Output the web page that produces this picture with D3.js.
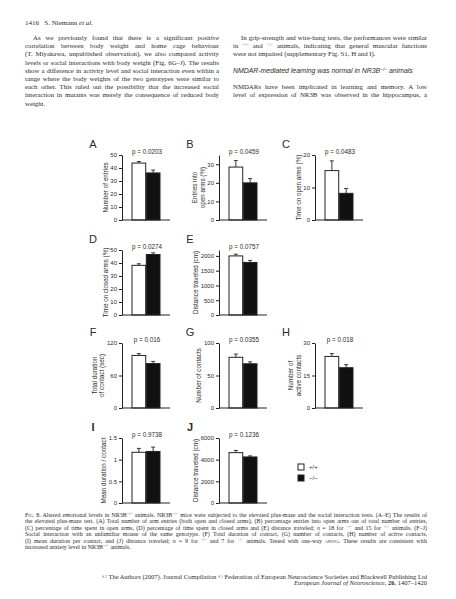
<!DOCTYPE html>
<html><head><meta charset="utf-8">
<script src="https://cdn.jsdelivr.net/npm/d3@7"></script>
<style>html,body{margin:0;padding:0;background:#fff;} svg{display:block}</style>
</head><body>
<svg id="page" width="456" height="599"></svg>
<script>
// ---------------- DATA ----------------
const panelLetters = ["A","B","C","D","E","F","G","H","I","J"];
const genotypes = ["+/+", "\u2212/\u2212"];
const pValues = ["p = 0.0203","p = 0.0459","p = 0.0483","p = 0.0274","p = 0.0757",
                 "p = 0.016","p = 0.0355","p = 0.018","p = 0.9738","p = 0.1236"];
const wtMeans = [43.8, 28.5, 15.2, 38.2, 2000, 97, 78, 23.8, 1.17, 4650];
const wtErr   = [1.2, 3.5, 3.0, 1.2, 60, 3.5, 5, 1.3, 0.09, 200];
const koMeans = [36.2, 20.0, 8.2, 46.5, 1780, 82, 68, 18.6, 1.19, 4250];
const koErr   = [2.2, 2.3, 1.5, 1.3, 70, 4, 3, 1.4, 0.10, 100];
const yMax    = [50, 35, 20, 50, 2200, 120, 100, 30, 1.5, 6000];
const yTicks  = [[0,10,20,30,40,50],[0,10,20,30],[0,10,20],[0,10,20,30,40,50],
                 [0,500,1000,1500,2000],[0,60,120],[0,50,100],[0,15,30],
                 [0,0.5,1,1.5],[0,2000,4000,6000]];
const yTitles = [["Number of entries"],["Entries into","open arms (%)"],["Time on open arms (%)"],
                 ["Time on closed arms (%)"],["Distance traveled (cm)"],
                 ["Total duration","of contact (sec)"],["Number of contacts"],
                 ["Number of","active contacts"],["Mean duration / contact"],["Distance traveled (cm)"]];

const headerText = "1416\u2002 S. Niemann {i:et al.}";
const leftPara = [
 "As we previously found that there is a significant positive",
 "correlation between body weight and home cage behaviour",
 "(T. Miyakawa, unpublished observation), we also compared activity",
 "levels or social interactions with body weight (Fig. 6G\u2013J). The results",
 "show a difference in activity level and social interaction even within a",
 "range where the body weights of the two genotypes were similar to",
 "each other. This ruled out the possibility that the increased social",
 "interaction in mutants was merely the consequence of reduced body",
 "weight."];
const rightPara1 = [
 "In grip-strength and wire-hang tests, the performances were similar",
 "in {sup:\u2212/\u2212} and {sup:+/+} animals, indicating that general muscular functions",
 "were not impaired (supplementary Fig. S1, H and I)."];
const headingText = "NMDAR-mediated learning was normal in NR3B{sup:\u2212/\u2212} animals";
const rightPara2 = [
 "NMDARs have been implicated in learning and memory. A low",
 "level of expression of NR3B was observed in the hippocampus, a"];
const captionLines = [
 "{sc:Fig. 8.} Altered emotional levels in NR3B{sup:\u2212/\u2212} animals. NR3B{sup:\u2212/\u2212} mice were subjected to the elevated plus-maze and the social interaction tests. (A\u2013E) The results of",
 "the elevated plus-maze test. (A) Total number of arm entries (both open and closed arms), (B) percentage entries into open arms out of total number of entries,",
 "(C) percentage of time spent in open arms, (D) percentage of time spent in closed arms and (E) distance traveled; {i:n} = 18 for {sup:\u2212/\u2212} and 15 for {sup:+/+} animals. (F\u2013J)",
 "Social interaction with an unfamiliar mouse of the same genotype. (F) Total duration of contact, (G) number of contacts, (H) number of active contacts,",
 "(I) mean duration per contact, and (J) distance traveled; {i:n} = 9 for {sup:\u2212/\u2212} and 7 for {sup:+/+} animals. Tested with one-way {sc:anova}. These results are consistent with",
 "increased anxiety level in NR3B{sup:\u2212/\u2212} animals."];
const footerLines = [
 "\u00a9 The Authors (2007). Journal Compilation \u00a9 Federation of European Neuroscience Societies and Blackwell Publishing Ltd",
 "{i:European Journal of Neuroscience}, {b:26}, 1407\u20131420"];

// ---------------- LAYOUT ----------------
const panelCol = [0,1,2,0,1,0,1,2,0,1];
const panelRow = [0,0,0,1,1,2,2,2,3,3];
const colX = [122, 219, 315];
const rowBase = [220, 315, 408, 503];
const plotH = 65;
const INK = "#222";
const TXT = "#2b2b2b";
const SERIF = "'Liberation Serif','Times New Roman',serif";
const SANS = "'Liberation Sans',Arial,sans-serif";

const svg = d3.select("#page");
svg.append("rect").attr("width",456).attr("height",599).attr("fill","#fff");

function addRich(textSel, str, baseSize) {
  const re = /\{(sup|i|b|sc):([^}]*)\}/g;
  let last = 0, m;
  const push = (t, kind) => {
    if (!t) return;
    const ts = textSel.append("tspan").text(t);
    if (kind === "sup") ts.attr("baseline-shift","super").attr("font-size", baseSize*0.7);
    if (kind === "i") ts.attr("font-style","italic");
    if (kind === "b") ts.attr("font-weight","bold");
    if (kind === "sc") ts.attr("font-variant","small-caps");
  };
  while ((m = re.exec(str)) !== null) {
    push(str.slice(last, m.index), null);
    push(m[2], m[1]);
    last = re.lastIndex;
  }
  push(str.slice(last), null);
}

function drawLine(str, x, y, width, opts) {
  const t = svg.append("text").attr("x", x).attr("y", y)
    .attr("font-family", opts.family || SERIF).attr("font-size", opts.size)
    .attr("fill", TXT);
  if (opts.italic) t.attr("font-style","italic");
  if (opts.anchor) t.attr("text-anchor", opts.anchor);
  addRich(t, str, opts.size);
  if (opts.justify) {
    const natural = t.node().getComputedTextLength();
    const spaces = (t.text().match(/ /g) || []).length;
    if (natural > width || spaces === 0) {
      t.attr("textLength", width).attr("lengthAdjust","spacing");
    } else {
      t.attr("word-spacing", (width - natural) / spaces);
    }
  }
  return t;
}

// header
drawLine(headerText, 25, 25, 0, {size:7});

// body text
const LX = 25, RX = 233, COLW = 194, LH = 8.2, Y0 = 40, IND = 8;
leftPara.forEach((s,i) => {
  const ind = i===0 ? IND : 0;
  drawLine(s, LX+ind, Y0+i*LH, COLW-ind, {size:6.8, justify: i < leftPara.length-1});
});
rightPara1.forEach((s,i) => {
  const ind = i===0 ? IND : 0;
  drawLine(s, RX+ind, Y0+i*LH, COLW-ind, {size:6.8, justify: i < rightPara1.length-1});
});
drawLine(headingText, RX, Y0+4*LH, 0, {size:6.9, family:SANS, italic:true});
rightPara2.forEach((s,i) => {
  drawLine(s, RX, Y0+(6+i)*LH, COLW, {size:6.8, justify:true});
});

// ---------------- PANELS ----------------
panelLetters.forEach((L, i) => {
  const x0 = colX[panelCol[i]], yb = rowBase[panelRow[i]];
  const y = d3.scaleLinear().domain([0, yMax[i]]).range([yb, yb - plotH]);
  const x = d3.scaleBand().domain(genotypes).range([x0+10, x0+38]).paddingInner(0.04);
  const g = svg.append("g");
  const vals = [{k:genotypes[0], m:wtMeans[i], e:wtErr[i], fill:"#fff"},
                {k:genotypes[1], m:koMeans[i], e:koErr[i], fill:"#111"}];
  vals.forEach(v => {
    const cx = x(v.k) + x.bandwidth()/2;
    g.append("line").attr("x1",cx).attr("x2",cx).attr("y1",y(v.m)).attr("y2",y(v.m+v.e))
      .attr("stroke",INK).attr("stroke-width",0.9);
    g.append("line").attr("x1",cx-2).attr("x2",cx+2).attr("y1",y(v.m+v.e)).attr("y2",y(v.m+v.e))
      .attr("stroke",INK).attr("stroke-width",0.9);
  });
  g.selectAll("rect.bar").data(vals).join("rect").attr("class","bar")
    .attr("x", d => x(d.k)).attr("width", x.bandwidth())
    .attr("y", d => y(d.m)).attr("height", d => yb - y(d.m))
    .attr("fill", d => d.fill).attr("stroke", INK).attr("stroke-width", 1);
  const ax = d3.axisLeft(y).tickValues(yTicks[i]).tickSize(3).tickSizeOuter(0)
    .tickPadding(2).tickFormat(d => String(d));
  const ag = g.append("g").attr("transform", `translate(${x0},0)`).call(ax);
  ag.select(".domain").attr("stroke", INK);
  ag.selectAll(".tick line").attr("stroke", INK);
  ag.selectAll(".tick text").attr("fill", TXT).attr("font-size", 6).attr("font-family", SANS);
  g.append("line").attr("x1", x0).attr("x2", x0+48).attr("y1", yb).attr("y2", yb)
    .attr("stroke", INK).attr("stroke-width", 1);
  let maxW = 0;
  ag.selectAll(".tick text").each(function(){ maxW = Math.max(maxW, this.getComputedTextLength()); });
  const inner = x0 - 5 - maxW - 5;
  const lines = yTitles[i];
  lines.forEach((t, j) => {
    const tx = inner - (lines.length-1-j)*7.2;
    g.append("text").attr("transform", `translate(${tx},${yb - plotH/2}) rotate(-90)`)
      .attr("text-anchor","middle").attr("dy","0.35em")
      .attr("font-family", SANS).attr("font-size", 6.3).attr("fill", TXT).text(t);
  });
  g.append("text").attr("x", x0+25).attr("y", yb-66).attr("text-anchor","middle")
    .attr("font-family", SANS).attr("font-size", 6.3).attr("fill", TXT).text(pValues[i]);
  g.append("text").attr("x", x0-29).attr("y", yb-72).attr("text-anchor","middle")
    .attr("font-family", SANS).attr("font-size", 11).attr("fill", TXT)
    .attr("font-weight", (L==="I"||L==="J") ? "bold" : "normal").text(L);
});

// legend
const lg = svg.append("g");
genotypes.forEach((gname, j) => {
  const ly = 464 + j*11;
  lg.append("rect").attr("x", 298).attr("y", ly).attr("width", 6).attr("height", 6)
    .attr("fill", j===0 ? "#fff" : "#111").attr("stroke", INK).attr("stroke-width", 1);
  lg.append("text").attr("x", 309).attr("y", ly+5).attr("font-family", SANS)
    .attr("font-size", 6).attr("fill", TXT).text(gname);
});

// caption
captionLines.forEach((s, i) => {
  drawLine(s, 25, 517 + i*6.4, 402, {size:6.0, justify: i < captionLines.length-1});
});
// footer
footerLines.forEach((s, i) => {
  drawLine(s, 427, 579 + i*6.4, 0, {size:6.5, anchor:"end"});
});
</script>
</body></html>
